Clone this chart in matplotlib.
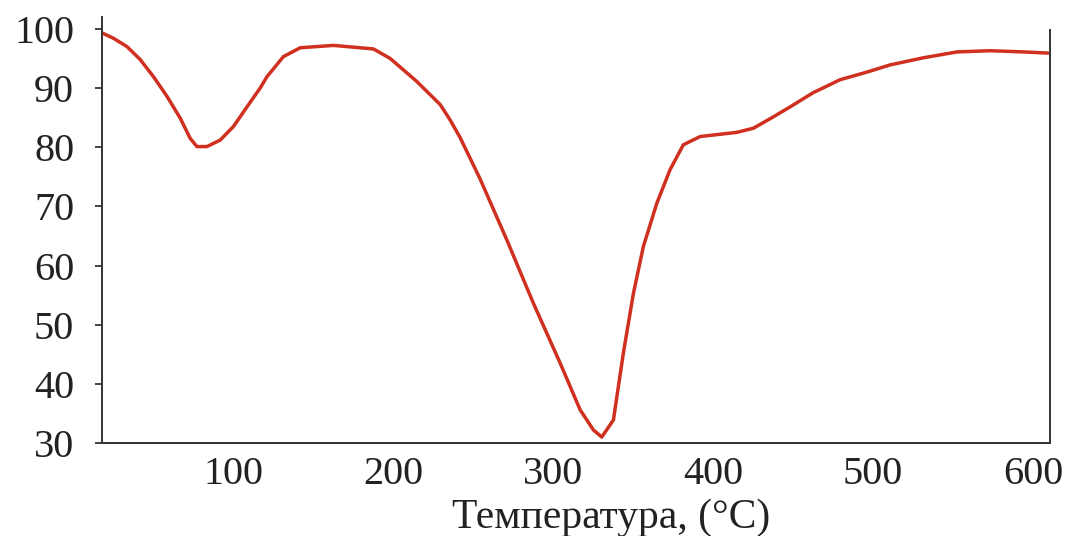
import numpy as np
import matplotlib
matplotlib.use('Agg')
import matplotlib.pyplot as plt

# ---------- data ----------
temp = [18.1, 25.2, 33.6, 41.9, 50.2, 58.6, 66.9, 73.1, 77.3, 83.6, 91.9,
        100.2, 108.6, 116.9, 121.1, 131.4, 141.9, 162.7, 187.7, 198.1, 214.8,
        229.4, 235.6, 241.9, 254.4, 271.1, 287.7, 304.4, 316.9, 325.2, 330.4,
        337.7, 343.9, 350.2, 356.4, 364.8, 373.1, 381.4, 391.9, 414.8, 425.2,
        437.5, 448.1, 462.5, 479.4, 496.3, 510.6, 531.3, 552.5, 573.1, 593.8,
        609.4]
signal = [99.3, 98.4, 97.0, 94.8, 91.9, 88.6, 84.9, 81.5, 80.1, 80.1, 81.2,
          83.5, 86.8, 90.0, 91.9, 95.3, 96.8, 97.2, 96.6, 95.0, 91.1,
          87.2, 84.6, 81.6, 74.6, 64.3, 53.6, 43.5, 35.6, 32.2, 31.0,
          33.9, 45.2, 55.3, 63.2, 70.5, 76.2, 80.4, 81.8, 82.5, 83.2,
          85.1, 86.8, 89.2, 91.4, 92.7, 93.9, 95.1, 96.1, 96.3, 96.1,
          95.9]
xticks = [100, 200, 300, 400, 500, 600]
yticks = [30, 40, 50, 60, 70, 80, 90, 100]

plt.rcParams['font.family'] = ['Liberation Serif', 'DejaVu Serif']

fig = plt.figure(figsize=(10.72, 5.36), dpi=100)
ax = fig.add_axes([102/1072, 1-443/536, 948/1072, 426/536])

ax.plot(temp, signal, color='#d0301f', lw=2.5,
        solid_joinstyle='round', solid_capstyle='round')

ax.set_xlim(18, 610.6)
ax.set_ylim(30, 102)
ax.set_xticks(xticks)
ax.set_yticks(yticks)
ax.tick_params(axis='x', length=0, pad=9, labelsize=29, colors='#222222')
ax.tick_params(axis='y', length=5, width=1.2, direction='out', pad=15,
               labelsize=29, colors='#222222')

for s in ['left', 'right', 'bottom']:
    ax.spines[s].set_color('#333333')
    ax.spines[s].set_linewidth(1.4)
ax.spines['top'].set_visible(False)
ax.spines['right'].set_bounds(30, 99.8)

fig.text(611/1072, 1-528/536, 'Температура, (°C)', fontsize=30,
         color='#222222', ha='center', va='baseline')

fig.savefig('out.png', dpi=100, facecolor='white')
